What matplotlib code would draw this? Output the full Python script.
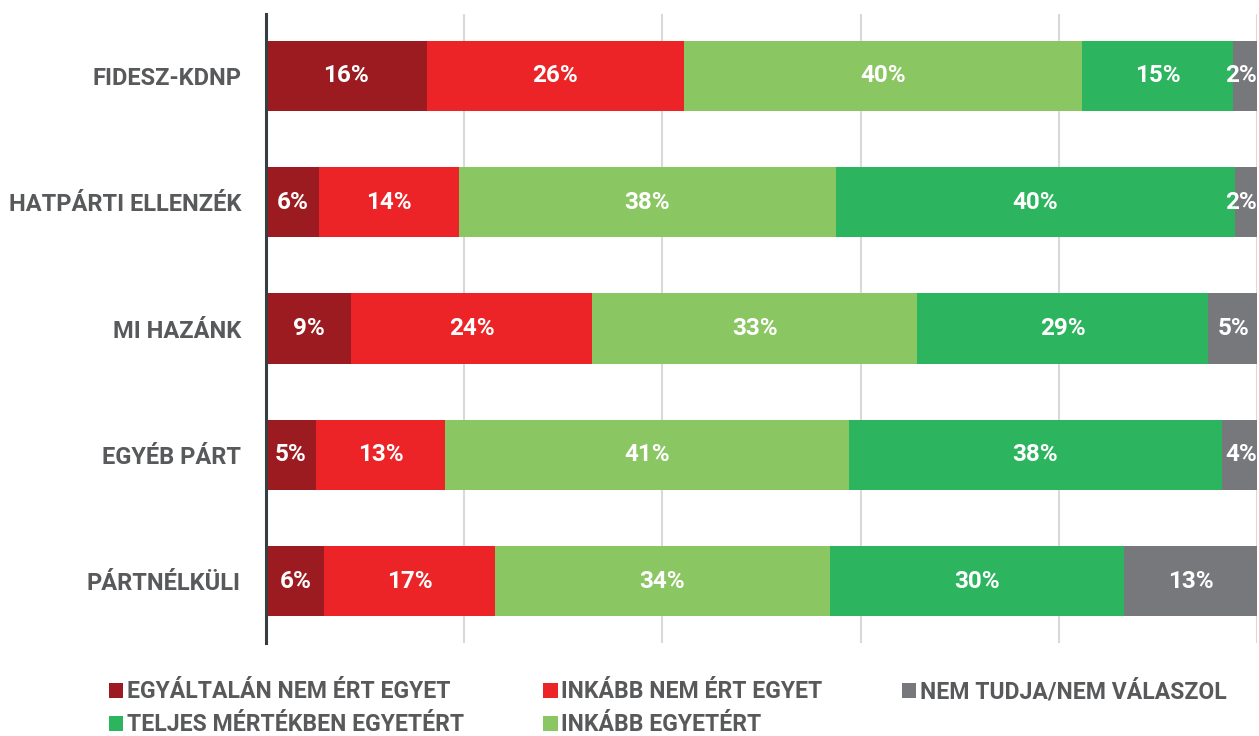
import matplotlib
matplotlib.use("Agg")
import matplotlib.pyplot as plt
from matplotlib.patches import Patch

plt.rcParams["font.family"] = ["Roboto", "DejaVu Sans"]

# categories (top to bottom)
parties = ["FIDESZ-KDNP", "HATPÁRTI ELLENZÉK", "MI HAZÁNK", "EGYÉB PÁRT", "PÁRTNÉLKÜLI"]

# segment shares (%), in stacking order
egyaltalan_nem = [16.2, 5.3, 8.6, 5.0, 5.9]
inkabb_nem = [26.0, 14.2, 24.3, 13.1, 17.2]
inkabb_igen = [40.1, 38.0, 32.8, 40.7, 33.8]
teljesen = [15.3, 40.3, 29.4, 37.7, 29.7]
nem_tudja = [2.4, 2.2, 5.0, 3.5, 13.4]

# percentages as printed in the bars
lbl_egyaltalan_nem = [16, 6, 9, 5, 6]
lbl_inkabb_nem = [26, 14, 24, 13, 17]
lbl_inkabb_igen = [40, 38, 33, 41, 34]
lbl_teljesen = [15, 40, 29, 38, 30]
lbl_nem_tudja = [2, 2, 5, 4, 13]

series = [
    ("EGYÁLTALÁN NEM ÉRT EGYET", egyaltalan_nem, lbl_egyaltalan_nem, "#9b1b20"),
    ("INKÁBB NEM ÉRT EGYET", inkabb_nem, lbl_inkabb_nem, "#ec2327"),
    ("INKÁBB EGYETÉRT", inkabb_igen, lbl_inkabb_igen, "#8ac662"),
    ("TELJES MÉRTÉKBEN EGYETÉRT", teljesen, lbl_teljesen, "#2db45e"),
    ("NEM TUDJA/NEM VÁLASZOL", nem_tudja, lbl_nem_tudja, "#76787b"),
]

TEXT_GREY = "#58595b"

fig = plt.figure(figsize=(12.59, 7.36), dpi=100)
ax = fig.add_axes([266 / 1259, 1 - 643 / 736, 991 / 1259, 629 / 736])

ypos = list(range(len(parties)))
left = [0.0] * len(parties)
handles = {}
for name, vals, lbls, color in series:
    ax.barh(ypos, vals, left=left, height=0.555, color=color,
            edgecolor="none", zorder=3)
    handles[name] = Patch(facecolor=color, edgecolor="none")
    for y, l, v, t in zip(ypos, left, vals, lbls):
        if l + v > 99 and v < 4.5:
            # tiny end segment: keep the label inside the chart edge
            x, ha = l + v, "right"
        else:
            x, ha = l + v / 2, "center"
        ax.text(x, y, f"{t}%", ha=ha, va="center",
                color="white", fontsize=17.5, fontweight="bold", zorder=4)
    left = [a + b for a, b in zip(left, vals)]

ax.set_xlim(0, 100)
ax.set_ylim(len(parties) - 0.51, -0.49)
ax.set_yticks(ypos)
ax.set_yticklabels(parties, fontsize=17, fontweight="bold", color=TEXT_GREY)
ax.tick_params(axis="y", length=0, pad=18)
ax.set_xticks([20, 40, 60, 80, 100])
ax.tick_params(axis="x", length=0, labelbottom=False)
ax.grid(axis="x", color="#d9d9d9", linewidth=1.5, zorder=0)

for s in ["top", "right", "bottom"]:
    ax.spines[s].set_visible(False)
ax.spines["left"].set_color("#373d41")
ax.spines["left"].set_linewidth(2.2)
ax.spines["left"].set_zorder(5)

# legend: row 1 = dark red, red, grey; row 2 = green, light green
order = ["EGYÁLTALÁN NEM ÉRT EGYET", "TELJES MÉRTÉKBEN EGYETÉRT",
         "INKÁBB NEM ÉRT EGYET", "INKÁBB EGYETÉRT", "NEM TUDJA/NEM VÁLASZOL"]
leg = fig.legend([handles[o] for o in order], order, ncol=3,
                 loc="upper left", bbox_to_anchor=(109 / 1259, 1 - 680 / 736),
                 frameon=False, handlelength=0.62, handleheight=0.62,
                 handletextpad=0.15, columnspacing=3.45, labelspacing=0.42,
                 borderpad=0, borderaxespad=0,
                 prop={"weight": "bold", "size": 16.6})
for t in leg.get_texts():
    t.set_color(TEXT_GREY)

fig.savefig("out.png", dpi=100)
